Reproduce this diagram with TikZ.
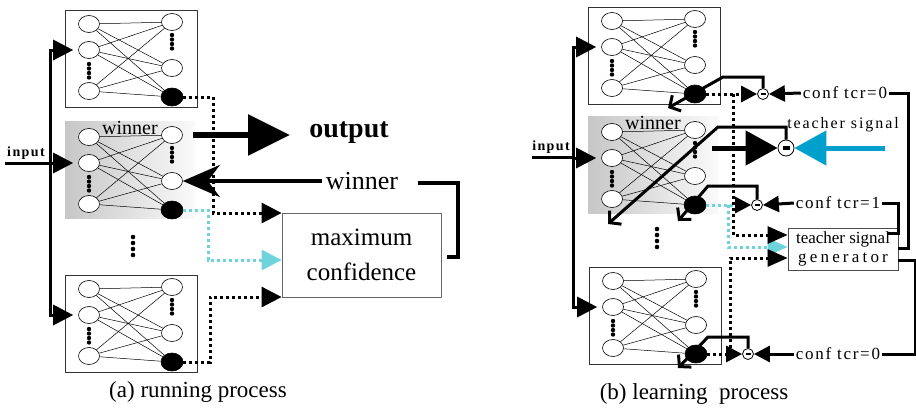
\documentclass[tikz,border=0pt]{standalone}
\usepackage{fontspec}
\setmainfont{Liberation Serif}
\newfontfamily\tracked[LetterSpace=10]{Liberation Serif}
\newfontfamily\trackedwide[LetterSpace=12]{Liberation Serif}
\usetikzlibrary{arrows.meta,shapes.geometric}

\definecolor{paleteal}{HTML}{6CD4DA}
\definecolor{strongcyan}{HTML}{009FCC}

% neurons of one network: three inputs, three outputs, fully connected
\newcommand\netcore{%
  \node[neuron] (-l1) at (24,14) {};
  \node[neuron] (-l2) at (24,40) {};
  \node[neuron] (-l3) at (24,81) {};
  \node[neuron] (-r1) at (107,12) {};
  \node[neuron] (-r2) at (107,58) {};
  \node[neuronf] (-r3) at (107,87) {};
  \foreach \a in {1,2,3}{\foreach \b in {1,2,3}{\draw[wire] (-l\a) -- (-r\b);}}
  \foreach \y in {54,58.5,63,67.5}{\fill (24,\y) circle (2.2pt);}
  \foreach \y in {25,29.5,34,38.5}{\fill (107,\y) circle (2.2pt);}
}
\newcommand\spk{\kern3.2pt}

\tikzset{
  neuron/.style={ellipse, draw, line width=0.6pt, fill=white,
    minimum width=21pt, minimum height=17pt, inner sep=0pt},
  neuronf/.style={neuron, fill=black, minimum width=22pt, minimum height=18pt},
  wire/.style={line width=0.5pt},
  bus/.style={line width=3pt},
  dotln/.style={line width=3pt, dash pattern=on 3pt off 3pt},
  cydot/.style={dotln, draw=paleteal},
  tri/.style={-{Triangle[length=20pt,width=20pt]}},
  trismall/.style={-{Triangle[length=16pt,width=16pt]}},
  trigen/.style={-{Triangle[length=20pt,width=17pt]}},
  barb/.style={-{Straight Barb[length=8pt,width=18pt]}},
  cmp/.style={circle, draw, line width=0.8pt, fill=white, minimum size=11pt, inner sep=0pt},
  cmpT/.style={cmp, minimum size=16pt},
  lab/.style={font=\tracked\fontsize{17}{17}\selectfont, inner sep=2pt},
  framednet/.pic={
    \draw[line width=0.6pt, draw=black!80] (0,0) rectangle (132,97);
    \netcore
  },
  winnet/.pic={
    \shade[left color=black!22, right color=black!2] (0,-2) rectangle (130,95);
    \netcore
    \node[font=\fontsize{20}{20}\selectfont, inner sep=0pt] (-tag) at (65,5) {winner};
  },
}

\begin{document}
\begin{tikzpicture}[x=1pt,y=-1pt]
\useasboundingbox (0,0) rectangle (916,413);

% ---------------- (a) running process ----------------
\pic (A1) at (65,10) {framednet};
\pic (A2) at (65,123) {winnet};
\pic (A3) at (65,275) {framednet};

\node[font=\tracked\bfseries\fontsize{14}{14}\selectfont] (inAt) at (26,153) {input};
\coordinate (inA) at (5,163);
\coordinate (jA) at (50,163);
\draw[bus] (inA) -- (jA);
\draw[bus,tri,shorten >=5pt] (jA) |- (A1-l2);
\draw[bus,tri,shorten >=5pt] (jA) |- (A2-l2);
\draw[bus,tri,shorten >=5pt] (jA) |- (A3-l2);

\coordinate (oS) at (193,135);
\coordinate (oE) at (290,135);
\draw[line width=6pt, -{Triangle[length=42pt,width=40pt]}] (oS) -- (oE);
\node[font=\bfseries\fontsize{28}{28}\selectfont] (outT) at (349,133) {output};

\node[font=\fontsize{26}{26}\selectfont] (wl) at (362,181) {winner};
\draw[line width=4pt, -{Stealth[length=37pt,width=32pt,inset=12pt]}] (wl.west) -- (A2-r2.east);

\node[draw=black!60, line width=0.8pt, minimum width=159pt, minimum height=84pt,
      align=center, font=\fontsize{25}{35}\selectfont] (mc) at (361.5,255) {maximum\\confidence};

\coordinate (wL) at (418,183);
\coordinate (wR) at (458,183);
\coordinate (mR) at (447,257);
\draw[line width=4pt] (wL) -- (wR) |- (mR);

\coordinate (cA) at (208,260);
\draw[cydot,tri] (A2-r3.east) -| (cA) -- (cA -| mc.west);
\coordinate (dA) at (213,213);
\draw[dotln,tri] (A1-r3.east) -| (dA) -- (dA -| mc.west);
\coordinate (eA) at (210,297);
\draw[dotln,tri] (A3-r3.east) -| (eA) -- (eA -| mc.west);

\foreach \y in {237,243,249,255}{\fill (133,\y) circle (2.3pt);}

\node[font=\fontsize{23}{23}\selectfont] (capA) at (198,392) {(a) running process};

% ---------------- (b) learning process ----------------
\pic (B1) at (588,7) {framednet};
\pic (B2) at (588,118) {winnet};
\pic (B3) at (589,267) {framednet};

\node[font=\tracked\bfseries\fontsize{14}{14}\selectfont] (inBt) at (551,147) {input};
\coordinate (inB) at (532,157);
\coordinate (jB) at (573,157);
\draw[bus] (inB) -- (jB);
\draw[bus,tri,shorten >=5pt] (jB) |- (B1-l2);
\draw[bus,tri,shorten >=5pt] (jB) |- (B2-l2);
\draw[bus,tri,shorten >=5pt] (jB) |- (B3-l2);

% teacher signal generator
\node[draw=black!70, line width=0.8pt, minimum width=110pt, minimum height=42pt,
      align=center, inner sep=1pt, font=\fontsize{17}{19}\selectfont] (gen) at (843,249)
      {teacher signal\\g\spk e\spk n\spk e\spk r\spk a\spk t\spk o\spk r};

% comparators
\node[cmp] (c1) at (763,94) {\rule{5pt}{1.2pt}};
\node[cmpT] (ct) at (786,148) {\rule{7pt}{4pt}};
\node[cmp] (c2) at (757,205) {\rule{5pt}{1.2pt}};
\node[cmp] (c3) at (748,354) {\rule{5pt}{1.2pt}};

\node[lab] (t1) at (845,93) {conf tcr=0};
\node[lab] (t2) at (838,203) {conf tcr=1};
\node[lab] (t3) at (838,354) {conf tcr=0};
\node[font=\trackedwide\fontsize{16}{16}\selectfont] (tsT) at (843,125) {teacher signal};

\draw[bus,trismall] (t1.west) -- (c1.east);
\draw[bus,trismall] (t2.west) -- (c2.east);
\draw[bus,trismall] (t3.west) -- (c3.east);

% generator outputs to the teacher values
\coordinate (g1) at (908,248);
\draw[bus] (t1.east) -| (g1) -- (g1 -| gen.east);
\coordinate (g2) at (898,233);
\coordinate (g2e) at (888,233);
\draw[bus] (t2.east) -| (g2) -- (g2e);
\coordinate (g3) at (915,260);
\draw[bus] (t3.east) -| (g3) -- (g3 -| gen.east);

% teacher signal into the winner
\coordinate (tS) at (712,148);
\coordinate (tC) at (885,148);
\draw[line width=5pt, -{Triangle[length=32pt,width=34pt]}] (tS) -- (ct.west);
\draw[line width=5pt, strongcyan, -{Triangle[length=32pt,width=34pt]}] (tC) -- (ct.east);

% confidence outputs to comparators and generator
\coordinate (v2) at (728,205);
\coordinate (v2b) at (728,247);
\draw[cydot,trigen] (v2) -- (v2b) -- (v2b -| gen.west);
\draw[cydot,-{Triangle[length=16pt,width=16pt,color=black,fill=black]}] (B2-r3.east) -- (c2.west);

\coordinate (v1) at (733,94);
\coordinate (v1b) at (733,235);
\draw[dotln,trismall] (B1-r3.east) -- (c1.west);
\draw[dotln,trigen] (v1) -- (v1b) -- (v1b -| gen.west);

\coordinate (v3) at (730,354);
\coordinate (v3b) at (730,258);
\draw[dotln,trismall] (B3-r3.east) -- (c3.west);
\draw[dotln,trigen] (v3) -- (v3b) -- (v3b -| gen.west);

% error feedback to the networks
\coordinate (u1) at (723,77);
\coordinate (u1e) at (668,108);
\draw[bus,barb] (c1.north) |- (u1) -- (u1e);
\coordinate (ut) at (718,127);
\coordinate (ute) at (608,224);
\draw[bus,barb] (ct.north) |- (ut) -- (ute);
\coordinate (u2) at (708,186);
\coordinate (u2e) at (678,221);
\draw[bus,barb] (c2.north) |- (u2) -- (u2e);
\coordinate (u3) at (708,337);
\coordinate (u3e) at (678,368);
\draw[bus,barb] (c3.north) |- (u3) -- (u3e);

\foreach \y in {229,235,241,247}{\fill (657,\y) circle (2.3pt);}

\node[font=\fontsize{23}{23}\selectfont] (capB) at (694,394) {(b) learning\ \ process};
\end{tikzpicture}
\end{document}
